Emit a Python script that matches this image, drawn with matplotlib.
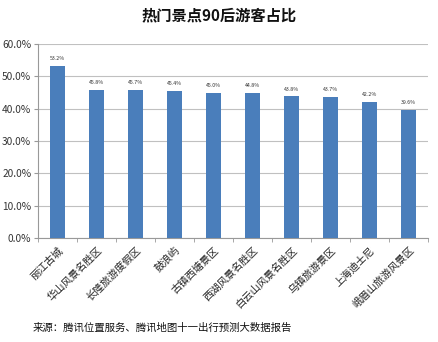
import matplotlib.pyplot as plt
from matplotlib.ticker import FuncFormatter, FixedLocator

plt.rcParams['font.family'] = ['Noto Sans CJK SC', 'DejaVu Sans']

spots = ['丽江古城', '华山风景名胜区', '长隆旅游度假区', '鼓浪屿', '古镇西塘景区',
         '西湖风景名胜区', '白云山风景名胜区', '乌镇旅游景区', '上海迪士尼', '峨眉山旅游风景区']
share = [53.2, 45.8, 45.7, 45.4, 45.0, 44.8, 43.8, 43.7, 42.2, 39.6]

fig = plt.figure(figsize=(4.39, 3.42), dpi=100)
ax = fig.add_axes([0.087, 0.304, 0.888, 0.567])

x = range(len(spots))
bars = ax.bar(x, share, width=0.39, color='#4a7ebb', zorder=3)
for b, v in zip(bars, share):
    ax.text(b.get_x() + b.get_width() / 2, v + 1.5, f'{v:.1f}%',
            ha='center', va='bottom', fontsize=3.8, color='#333333')

ax.set_xlim(-0.5, len(spots) - 0.5)
ax.set_ylim(0, 60)
ax.set_yticks(range(0, 61, 10))
ax.yaxis.set_major_formatter(FuncFormatter(lambda v, p: f'{v:.1f}%'))
ax.grid(axis='y', color='#c0c0c0', linewidth=0.8, zorder=0)

# category ticks sit between the bars, labels go under each bar
ax.set_xticks(list(x))
ax.set_xticklabels(spots, rotation=45, ha='right', rotation_mode='anchor',
                   fontsize=7.4, color='#222222')
ax.xaxis.set_minor_locator(FixedLocator([i - 0.5 for i in range(len(spots) + 1)]))
ax.tick_params(axis='x', which='major', length=0, pad=5)
ax.tick_params(axis='x', which='minor', length=3, color='#999999')
ax.tick_params(axis='y', length=3, color='#999999', labelsize=7.3,
               labelcolor='#333333', pad=2)

for s in ['top', 'right']:
    ax.spines[s].set_visible(False)
ax.spines['left'].set_color('#999999')
ax.spines['bottom'].set_color('#999999')

fig.text(0.5, 0.955, '热门景点90后游客占比', ha='center', va='center',
         fontsize=11, fontweight='bold', color='#111111')
fig.text(0.075, 0.04, '来源：腾讯位置服务、腾讯地图十一出行预测大数据报告',
         ha='left', va='center', fontsize=7.5, color='#111111')

fig.savefig('out.png', dpi=100)
